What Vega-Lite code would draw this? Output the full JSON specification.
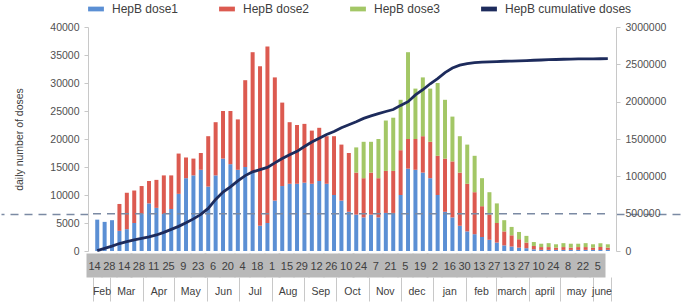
{
  "$schema": "https://vega.github.io/schema/vega-lite/v6.json",
  "width": 687,
  "height": 302,
  "autosize": {"type": "fit", "contains": "padding"},
  "padding": {"left": 0, "right": 0, "top": 1, "bottom": 0},
  "background": "white",
  "data": {
    "values": [
      {"week": "2021-02-17", "d1": 5600, "d2": 0, "d3": 0, "cum": 5000},
      {"week": "2021-02-24", "d1": 5200, "d2": 0, "d3": 0, "cum": 35000},
      {"week": "2021-03-03", "d1": 5500, "d2": 0, "d3": 0, "cum": 65000},
      {"week": "2021-03-10", "d1": 3600, "d2": 4800, "d3": 0, "cum": 100000},
      {"week": "2021-03-17", "d1": 3900, "d2": 6500, "d3": 0, "cum": 125000},
      {"week": "2021-03-24", "d1": 5000, "d2": 5800, "d3": 0, "cum": 150000},
      {"week": "2021-03-31", "d1": 6600, "d2": 5000, "d3": 0, "cum": 170000},
      {"week": "2021-04-07", "d1": 8500, "d2": 4000, "d3": 0, "cum": 190000},
      {"week": "2021-04-14", "d1": 7700, "d2": 5000, "d3": 0, "cum": 215000},
      {"week": "2021-04-21", "d1": 6600, "d2": 6900, "d3": 0, "cum": 250000},
      {"week": "2021-04-28", "d1": 7500, "d2": 6000, "d3": 0, "cum": 290000},
      {"week": "2021-05-05", "d1": 10200, "d2": 7200, "d3": 0, "cum": 330000},
      {"week": "2021-05-12", "d1": 13000, "d2": 3700, "d3": 0, "cum": 377000},
      {"week": "2021-05-19", "d1": 13500, "d2": 3000, "d3": 0, "cum": 430000},
      {"week": "2021-05-26", "d1": 14500, "d2": 3000, "d3": 0, "cum": 490000},
      {"week": "2021-06-02", "d1": 11500, "d2": 9000, "d3": 0, "cum": 570000},
      {"week": "2021-06-09", "d1": 13500, "d2": 9500, "d3": 0, "cum": 690000},
      {"week": "2021-06-16", "d1": 16500, "d2": 8500, "d3": 0, "cum": 790000},
      {"week": "2021-06-23", "d1": 15500, "d2": 9500, "d3": 0, "cum": 860000},
      {"week": "2021-06-30", "d1": 14500, "d2": 9000, "d3": 0, "cum": 940000},
      {"week": "2021-07-07", "d1": 15000, "d2": 15500, "d3": 0, "cum": 1010000},
      {"week": "2021-07-14", "d1": 14000, "d2": 21500, "d3": 0, "cum": 1060000},
      {"week": "2021-07-21", "d1": 4500, "d2": 28500, "d3": 0, "cum": 1090000},
      {"week": "2021-07-28", "d1": 5000, "d2": 31500, "d3": 0, "cum": 1120000},
      {"week": "2021-08-04", "d1": 9000, "d2": 22000, "d3": 0, "cum": 1180000},
      {"week": "2021-08-11", "d1": 11600, "d2": 14900, "d3": 0, "cum": 1238000},
      {"week": "2021-08-18", "d1": 12000, "d2": 11000, "d3": 0, "cum": 1290000},
      {"week": "2021-08-25", "d1": 12000, "d2": 10500, "d3": 0, "cum": 1335000},
      {"week": "2021-09-01", "d1": 12200, "d2": 10500, "d3": 0, "cum": 1400000},
      {"week": "2021-09-08", "d1": 12000, "d2": 9500, "d3": 0, "cum": 1460000},
      {"week": "2021-09-15", "d1": 12500, "d2": 9500, "d3": 0, "cum": 1510000},
      {"week": "2021-09-22", "d1": 12000, "d2": 8500, "d3": 0, "cum": 1560000},
      {"week": "2021-09-29", "d1": 10000, "d2": 10500, "d3": 0, "cum": 1600000},
      {"week": "2021-10-06", "d1": 9000, "d2": 10000, "d3": 0, "cum": 1650000},
      {"week": "2021-10-13", "d1": 7000, "d2": 10500, "d3": 0, "cum": 1690000},
      {"week": "2021-10-20", "d1": 6500, "d2": 7500, "d3": 4500, "cum": 1730000},
      {"week": "2021-10-27", "d1": 6000, "d2": 7000, "d3": 6500, "cum": 1776000},
      {"week": "2021-11-03", "d1": 6500, "d2": 7500, "d3": 5500, "cum": 1810000},
      {"week": "2021-11-10", "d1": 6000, "d2": 7000, "d3": 7000, "cum": 1840000},
      {"week": "2021-11-17", "d1": 6800, "d2": 7500, "d3": 9000, "cum": 1868000},
      {"week": "2021-11-24", "d1": 6800, "d2": 7500, "d3": 9500, "cum": 1895000},
      {"week": "2021-12-01", "d1": 10000, "d2": 8000, "d3": 9000, "cum": 1950000},
      {"week": "2021-12-08", "d1": 14700, "d2": 5300, "d3": 15500, "cum": 2000000},
      {"week": "2021-12-15", "d1": 14500, "d2": 5500, "d3": 9000, "cum": 2090000},
      {"week": "2021-12-22", "d1": 14000, "d2": 6500, "d3": 10500, "cum": 2160000},
      {"week": "2021-12-29", "d1": 13000, "d2": 6500, "d3": 9500, "cum": 2240000},
      {"week": "2022-01-05", "d1": 10000, "d2": 7000, "d3": 13000, "cum": 2310000},
      {"week": "2022-01-12", "d1": 7000, "d2": 9500, "d3": 10500, "cum": 2390000},
      {"week": "2022-01-19", "d1": 6000, "d2": 10000, "d3": 8000, "cum": 2450000},
      {"week": "2022-01-26", "d1": 4500, "d2": 9500, "d3": 6500, "cum": 2489000},
      {"week": "2022-02-02", "d1": 3500, "d2": 8500, "d3": 7000, "cum": 2510000},
      {"week": "2022-02-09", "d1": 3000, "d2": 7500, "d3": 6500, "cum": 2522000},
      {"week": "2022-02-16", "d1": 2500, "d2": 5500, "d3": 5000, "cum": 2529000},
      {"week": "2022-02-23", "d1": 2000, "d2": 4500, "d3": 4000, "cum": 2533000},
      {"week": "2022-03-02", "d1": 1500, "d2": 3500, "d3": 3500, "cum": 2537000},
      {"week": "2022-03-09", "d1": 1000, "d2": 2500, "d3": 2000, "cum": 2541000},
      {"week": "2022-03-16", "d1": 800, "d2": 2000, "d3": 1500, "cum": 2543000},
      {"week": "2022-03-23", "d1": 600, "d2": 1500, "d3": 1300, "cum": 2546000},
      {"week": "2022-03-30", "d1": 500, "d2": 1000, "d3": 1200, "cum": 2550000},
      {"week": "2022-04-06", "d1": 300, "d2": 600, "d3": 700, "cum": 2555000},
      {"week": "2022-04-13", "d1": 200, "d2": 500, "d3": 600, "cum": 2558000},
      {"week": "2022-04-20", "d1": 200, "d2": 500, "d3": 700, "cum": 2562000},
      {"week": "2022-04-27", "d1": 200, "d2": 400, "d3": 600, "cum": 2565000},
      {"week": "2022-05-04", "d1": 200, "d2": 500, "d3": 700, "cum": 2568000},
      {"week": "2022-05-11", "d1": 200, "d2": 400, "d3": 700, "cum": 2570000},
      {"week": "2022-05-18", "d1": 200, "d2": 500, "d3": 600, "cum": 2572000},
      {"week": "2022-05-25", "d1": 200, "d2": 500, "d3": 700, "cum": 2573000},
      {"week": "2022-06-01", "d1": 200, "d2": 400, "d3": 600, "cum": 2574000},
      {"week": "2022-06-08", "d1": 200, "d2": 500, "d3": 700, "cum": 2575000},
      {"week": "2022-06-15", "d1": 200, "d2": 400, "d3": 600, "cum": 2576000}
    ]
  },
  "layer": [
    {
      "transform": [{"fold": ["d1", "d2", "d3"], "as": ["dose", "count"]}],
      "mark": {"type": "bar", "width": 4},
      "encoding": {
        "x": {
          "field": "week",
          "type": "temporal",
          "scale": {"type": "utc", "domain": [{"year": 2021, "month": 2, "date": 13, "utc": true}, {"year": 2022, "month": 6, "date": 18, "utc": true}]},
          "axis": {
            "orient": "bottom",
            "title": null,
            "offset": 2,
            "domain": false,
            "ticks": true,
            "tickSize": 24,
            "tickWidth": 16,
            "tickCap": "butt",
            "tickColor": "#b9b9b9",
            "grid": false,
            "format": "%-d",
            "labelPadding": -17,
            "labelFontSize": 11,
            "labelColor": "#404040",
            "labelOverlap": false,
            "labelFlush": false,
            "labelBound": false,
            "values": [
              {"year": 2021, "month": 2, "date": 14, "utc": true},
              {"year": 2021, "month": 2, "date": 28, "utc": true},
              {"year": 2021, "month": 3, "date": 14, "utc": true},
              {"year": 2021, "month": 3, "date": 28, "utc": true},
              {"year": 2021, "month": 4, "date": 11, "utc": true},
              {"year": 2021, "month": 4, "date": 25, "utc": true},
              {"year": 2021, "month": 5, "date": 9, "utc": true},
              {"year": 2021, "month": 5, "date": 23, "utc": true},
              {"year": 2021, "month": 6, "date": 6, "utc": true},
              {"year": 2021, "month": 6, "date": 20, "utc": true},
              {"year": 2021, "month": 7, "date": 4, "utc": true},
              {"year": 2021, "month": 7, "date": 18, "utc": true},
              {"year": 2021, "month": 8, "date": 1, "utc": true},
              {"year": 2021, "month": 8, "date": 15, "utc": true},
              {"year": 2021, "month": 8, "date": 29, "utc": true},
              {"year": 2021, "month": 9, "date": 12, "utc": true},
              {"year": 2021, "month": 9, "date": 26, "utc": true},
              {"year": 2021, "month": 10, "date": 10, "utc": true},
              {"year": 2021, "month": 10, "date": 24, "utc": true},
              {"year": 2021, "month": 11, "date": 7, "utc": true},
              {"year": 2021, "month": 11, "date": 21, "utc": true},
              {"year": 2021, "month": 12, "date": 5, "utc": true},
              {"year": 2021, "month": 12, "date": 19, "utc": true},
              {"year": 2022, "month": 1, "date": 2, "utc": true},
              {"year": 2022, "month": 1, "date": 16, "utc": true},
              {"year": 2022, "month": 1, "date": 30, "utc": true},
              {"year": 2022, "month": 2, "date": 13, "utc": true},
              {"year": 2022, "month": 2, "date": 27, "utc": true},
              {"year": 2022, "month": 3, "date": 13, "utc": true},
              {"year": 2022, "month": 3, "date": 27, "utc": true},
              {"year": 2022, "month": 4, "date": 10, "utc": true},
              {"year": 2022, "month": 4, "date": 24, "utc": true},
              {"year": 2022, "month": 5, "date": 8, "utc": true},
              {"year": 2022, "month": 5, "date": 22, "utc": true},
              {"year": 2022, "month": 6, "date": 5, "utc": true}
            ]
          }
        },
        "y": {
          "field": "count",
          "type": "quantitative",
          "stack": "zero",
          "scale": {"domain": [0, 40000]},
          "axis": {
            "orient": "left",
            "title": "daily number of doses",
            "titleFontSize": 10.5,
            "titleFontWeight": "normal",
            "titleColor": "#404040",
            "titleX": -64,
            "values": [0, 5000, 6666.67, 10000, 15000, 20000, 25000, 30000, 35000, 40000],
            "format": "d",
            "labelExpr": "datum.value > 6000 && datum.value < 7000 ? '' : datum.label",
            "labelFontSize": 10.5,
            "labelColor": "#505050",
            "labelPadding": 5,
            "domainColor": "#c8c8c8",
            "grid": false,
            "tickSize": {"condition": {"test": "datum.value > 6000 && datum.value < 7000", "value": 87}, "value": 4},
            "tickColor": {"condition": {"test": "datum.value > 6000 && datum.value < 7000", "value": "#7b8aa3"}, "value": "#c8c8c8"},
            "tickDash": {"condition": {"test": "datum.value > 6000 && datum.value < 7000", "value": [8, 6]}, "value": []},
            "tickWidth": {"condition": {"test": "datum.value > 6000 && datum.value < 7000", "value": 1.5}, "value": 1}
          }
        },
        "color": {
          "field": "dose",
          "type": "nominal",
          "scale": {"domain": ["d1", "d2", "d3", "cum"], "range": ["#5b8fd4", "#dc5a50", "#a3c766", "#1d2b5c"]},
          "legend": {
            "orient": "top",
            "direction": "horizontal",
            "title": null,
            "offset": 12,
            "symbolType": "M-1,-0.3H1V0.3H-1Z",
            "symbolSize": 250,
            "symbolStrokeWidth": 0,
            "labelFontSize": 12,
            "labelColor": "#404040",
            "labelLimit": 300,
            "labelOffset": 8,
            "columnPadding": 40,
            "labelExpr": "datum.label == 'd1' ? 'HepB dose1' : datum.label == 'd2' ? 'HepB dose2' : datum.label == 'd3' ? 'HepB dose3' : 'HepB cumulative doses'"
          }
        },
        "order": {"field": "dose", "sort": "ascending"}
      }
    },
    {
      "mark": {"type": "line", "strokeWidth": 2.8},
      "encoding": {
        "x": {
          "field": "week",
          "type": "temporal",
          "scale": {"type": "utc", "domain": [{"year": 2021, "month": 2, "date": 13, "utc": true}, {"year": 2022, "month": 6, "date": 18, "utc": true}]},
          "axis": {
            "orient": "bottom",
            "title": null,
            "offset": 26,
            "domain": false,
            "labels": false,
            "grid": false,
            "ticks": true,
            "tickSize": 24,
            "tickColor": "#c8c8c8",
            "tickWidth": 1,
            "values": [
              {"year": 2021, "month": 2, "date": 13, "utc": true},
              {"year": 2021, "month": 3, "date": 1, "utc": true},
              {"year": 2021, "month": 4, "date": 1, "utc": true},
              {"year": 2021, "month": 5, "date": 1, "utc": true},
              {"year": 2021, "month": 6, "date": 1, "utc": true},
              {"year": 2021, "month": 7, "date": 1, "utc": true},
              {"year": 2021, "month": 8, "date": 1, "utc": true},
              {"year": 2021, "month": 9, "date": 1, "utc": true},
              {"year": 2021, "month": 10, "date": 1, "utc": true},
              {"year": 2021, "month": 11, "date": 1, "utc": true},
              {"year": 2021, "month": 12, "date": 1, "utc": true},
              {"year": 2022, "month": 1, "date": 1, "utc": true},
              {"year": 2022, "month": 2, "date": 1, "utc": true},
              {"year": 2022, "month": 3, "date": 1, "utc": true},
              {"year": 2022, "month": 4, "date": 1, "utc": true},
              {"year": 2022, "month": 5, "date": 1, "utc": true},
              {"year": 2022, "month": 6, "date": 1, "utc": true},
              {"year": 2022, "month": 6, "date": 18, "utc": true}
            ]
          }
        },
        "y": {
          "field": "cum",
          "type": "quantitative",
          "scale": {"domain": [0, 3000000]},
          "axis": {
            "orient": "right",
            "title": null,
            "values": [0, 500000, 1000000, 1500000, 2000000, 2500000, 3000000],
            "format": "d",
            "labelFontSize": 10.5,
            "labelColor": "#505050",
            "labelPadding": {"condition": {"test": "datum.value == 500000", "value": -61}, "value": 5},
            "domainColor": "#c8c8c8",
            "grid": false,
            "tickSize": {"condition": {"test": "datum.value == 500000", "value": 70}, "value": 4},
            "tickColor": {"condition": {"test": "datum.value == 500000", "value": "#7b8aa3"}, "value": "#c8c8c8"},
            "tickDash": {"condition": {"test": "datum.value == 500000", "value": [8, 6]}, "value": []},
            "tickWidth": {"condition": {"test": "datum.value == 500000", "value": 1.5}, "value": 1}
          }
        },
        "color": {"datum": "cum", "type": "nominal"}
      }
    },
    {
      "data": {"values": [{"ref": 500000}]},
      "mark": {"type": "rule", "strokeDash": [8, 6], "color": "#7b8aa3", "strokeWidth": 1.5},
      "encoding": {
        "x": {
          "datum": {"year": 2021, "month": 2, "date": 13, "utc": true},
          "type": "temporal",
          "scale": {"type": "utc", "domain": [{"year": 2021, "month": 2, "date": 13, "utc": true}, {"year": 2022, "month": 6, "date": 18, "utc": true}]},
          "axis": {
            "orient": "bottom",
            "title": null,
            "offset": 26,
            "domain": false,
            "ticks": false,
            "grid": false,
            "labelPadding": 9,
            "labelFontSize": 10.5,
            "labelColor": "#404040",
            "labelOverlap": false,
            "labelFlush": false,
            "labelBound": false,
            "labelExpr": "utcyear(datum.value) == 2021 && utcmonth(datum.value) < 11 ? utcFormat(datum.value, '%b') : (utcyear(datum.value) == 2022 && utcmonth(datum.value) >= 2 ? lower(utcFormat(datum.value, '%B')) : lower(utcFormat(datum.value, '%b')))",
            "values": [
              {"year": 2021, "month": 2, "date": 21, "utc": true},
              {"year": 2021, "month": 3, "date": 16, "utc": true},
              {"year": 2021, "month": 4, "date": 16, "utc": true},
              {"year": 2021, "month": 5, "date": 16, "utc": true},
              {"year": 2021, "month": 6, "date": 16, "utc": true},
              {"year": 2021, "month": 7, "date": 16, "utc": true},
              {"year": 2021, "month": 8, "date": 16, "utc": true},
              {"year": 2021, "month": 9, "date": 16, "utc": true},
              {"year": 2021, "month": 10, "date": 16, "utc": true},
              {"year": 2021, "month": 11, "date": 16, "utc": true},
              {"year": 2021, "month": 12, "date": 16, "utc": true},
              {"year": 2022, "month": 1, "date": 16, "utc": true},
              {"year": 2022, "month": 2, "date": 15, "utc": true},
              {"year": 2022, "month": 3, "date": 16, "utc": true},
              {"year": 2022, "month": 4, "date": 16, "utc": true},
              {"year": 2022, "month": 5, "date": 16, "utc": true},
              {"year": 2022, "month": 6, "date": 9, "utc": true}
            ]
          }
        },
        "x2": {"datum": {"year": 2022, "month": 6, "date": 18, "utc": true}},
        "y": {"field": "ref", "type": "quantitative", "scale": {"domain": [0, 3000000]}, "axis": null}
      }
    }
  ],
  "resolve": {
    "scale": {"y": "independent"},
    "axis": {"x": "independent", "y": "independent"}
  },
  "config": {
    "view": {"stroke": null},
    "font": "Liberation Sans",
    "axis": {"labelFont": "Liberation Sans", "titleFont": "Liberation Sans"},
    "legend": {"labelFont": "Liberation Sans"}
  }
}
